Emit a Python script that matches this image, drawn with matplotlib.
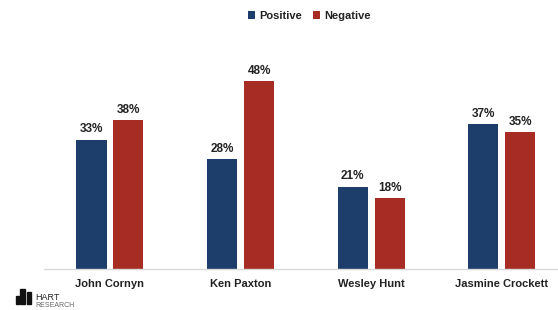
import numpy as np
import matplotlib.pyplot as plt
from matplotlib.patches import Rectangle

plt.rcParams['font.family'] = ['Liberation Sans', 'DejaVu Sans']

candidatos = ['John Cornyn', 'Ken Paxton', 'Wesley Hunt', 'Jasmine Crockett']
positivo = [33, 28, 21, 37]
negativo = [38, 48, 18, 35]

azul = '#1d3e6b'
vermelho = '#a62c24'

fig = plt.figure(figsize=(5.58, 3.1), dpi=100)
ax = fig.add_axes([44/558, 1 - 269/310, 1 - 44/558, 239/310])

x = np.arange(len(candidatos))
larg = 0.23
desl = 0.1415
b1 = ax.bar(x - desl, positivo, larg, color=azul, label='Positive')
b2 = ax.bar(x + desl, negativo, larg, color=vermelho, label='Negative')

for barras, vals in ((b1, positivo), (b2, negativo)):
    for b, v in zip(barras, vals):
        ax.text(b.get_x() + b.get_width()/2, v + 1.1, f'{v}%', ha='center', va='bottom',
                fontsize=8.5, fontweight='bold', color='#222222')

ax.set_xlim(-0.505, 3.43)
ax.set_ylim(0, 61)
ax.set_xticks(x)
ax.set_xticklabels(candidatos, fontsize=8, fontweight='bold', color='#222222')
ax.tick_params(axis='x', length=0, pad=7)
ax.set_yticks([])
for s in ['top', 'right', 'left']:
    ax.spines[s].set_visible(False)
ax.spines['bottom'].set_color('#d9d9d9')
ax.spines['bottom'].set_linewidth(1)

fig.legend(loc='center', bbox_to_anchor=(309/558, 1 - 16/310), ncol=2, frameon=False,
           prop={'size': 8, 'weight': 'bold'}, handlelength=0.7, handleheight=0.7,
           handletextpad=0.3, columnspacing=1.0, labelcolor='#222222')

# logo
for (lx, ly, lw, lh) in [(16, 296, 3, 8), (20, 289, 5, 15), (27, 292, 4, 12)]:
    fig.add_artist(Rectangle((lx/558, 1 - (ly + lh)/310), lw/558, lh/310,
                             transform=fig.transFigure, color='#111111'))
fig.text(35/558, 1 - 302.5/310, 'HART', fontsize=6.5, color='#222222', va='bottom')
fig.text(35/558, 1 - 309/310, 'RESEARCH', fontsize=5, color='#666666', va='bottom')

fig.savefig('out.png', dpi=100)
